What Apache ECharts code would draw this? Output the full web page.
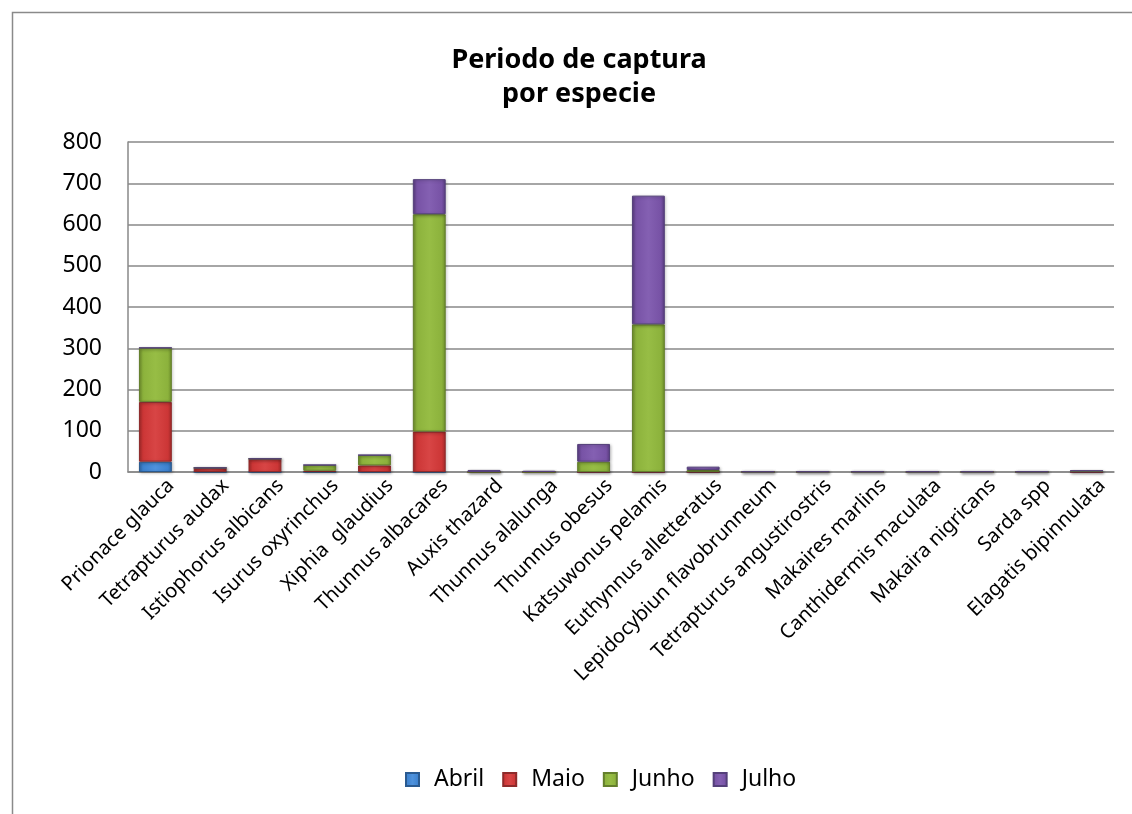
<!DOCTYPE html>
<html>
<head>
<meta charset="utf-8">
<title>Periodo de captura por especie</title>
<script src="https://cdn.jsdelivr.net/npm/echarts@6/dist/echarts.min.js"></script>
<style>
  html, body { margin: 0; padding: 0; background: #ffffff; }
  #chart { width: 1132px; height: 814px; }
</style>
</head>
<body>
<div id="chart"></div>
<script>
// Species (categories on the x axis)
const especies = [
  'Prionace glauca', 'Tetrapturus audax', 'Istiophorus albicans', 'Isurus oxyrinchus',
  'Xiphia  glaudius', 'Thunnus albacares', 'Auxis thazard', 'Thunnus alalunga',
  'Thunnus obesus', 'Katsuwonus pelamis', 'Euthynnus alletteratus',
  'Lepidocybiun flavobrunneum', 'Tetrapturus angustirostris', 'Makaires marlins',
  'Canthidermis maculata', 'Makaira nigricans', 'Sarda spp', 'Elagatis bipinnulata'
];

// Catch per month for each species
const abril = [25, 0, 0, 0, 0, 0, 0, 0, 0, 0, 0, 0, 0, 0, 0, 0, 0, 0];
const maio  = [145, 10, 32, 3, 16, 98, 0, 0, 0, 0, 0, 0, 0, 0, 0, 0, 0, 0];
const junho = [131, 0, 0, 14, 25, 527, 0, 0, 25, 358, 5, 0, 0, 0, 0, 0, 0, 3];
const julho = [0, 0, 0, 0, 0, 85, 5, 3, 43, 312, 8, 1, 1, 1, 1, 1, 1, 0];

const meses = ['Abril', 'Maio', 'Junho', 'Julho'];
const yTicks = [0, 100, 200, 300, 400, 500, 600, 700, 800];

const FONT = 'Noto Sans';

// Bevelled fill: darker edges, lighter body
function bevel(dark, base, light) {
  return {
    type: 'linear', x: 0, y: 0, x2: 1, y2: 0,
    colorStops: [
      { offset: 0, color: dark },
      { offset: 0.12, color: base },
      { offset: 0.5, color: light },
      { offset: 0.88, color: base },
      { offset: 1, color: dark }
    ]
  };
}

const palette = {
  Abril: { fill: bevel('#2f69a8', '#3d82cf', '#4f92dc'), border: '#2a5a90' },
  Maio:  { fill: bevel('#a42a2a', '#cc3636', '#d84545'), border: '#8e2a2a' },
  Junho: { fill: bevel('#6f8f2c', '#8cb23c', '#97bd45'), border: '#647f2c' },
  Julho: { fill: bevel('#5a3c80', '#7752a5', '#8460b2'), border: '#54407a' }
};

function serie(name, values) {
  return {
    name: name,
    type: 'bar',
    stack: 'total',
    data: values,
    barCategoryGap: '40%',
    itemStyle: {
      color: palette[name].fill,
      borderColor: palette[name].border,
      borderWidth: 1,
      shadowColor: 'rgba(0,0,0,0.25)',
      shadowBlur: 3,
      shadowOffsetX: 1,
      shadowOffsetY: 1
    },
    emphasis: { disabled: true }
  };
}

const chart = echarts.init(document.getElementById('chart'), null, { renderer: 'canvas' });

chart.setOption({
  animation: false,
  backgroundColor: '#ffffff',
  color: ['#3d82cf', '#cc3636', '#8cb23c', '#7752a5'],
  graphic: [{
    type: 'rect',
    left: 10, top: 10,
    shape: { width: 1200, height: 900 },
    style: { fill: 'none', stroke: '#8a8a8a', lineWidth: 1.5 },
    silent: true,
    z: -10
  }],
  title: {
    text: 'Periodo de captura\npor especie',
    left: 574,
    textAlign: 'center',
    top: 38,
    textStyle: {
      fontFamily: FONT,
      fontWeight: 'bold',
      fontSize: 27,
      lineHeight: 34,
      color: '#000000'
    }
  },
  legend: {
    data: meses,
    bottom: 18,
    left: 400,
    itemWidth: 13,
    itemHeight: 13,
    itemGap: 18,
    icon: 'rect',
    textStyle: { fontFamily: FONT, fontSize: 23, color: '#000000', padding: [0, 0, 0, 10] }
  },
  grid: {
    left: 128,
    right: 18,
    top: 142,
    bottom: 342,
    containLabel: false
  },
  xAxis: {
    type: 'category',
    data: especies,
    axisLine: { show: true, lineStyle: { color: '#888888', width: 1.5 } },
    axisTick: { show: false },
    axisLabel: {
      interval: 0,
      rotate: 45,
      margin: 26,
      padding: [0, -22, 0, 0],
      fontFamily: FONT,
      fontSize: 20,
      color: '#000000'
    }
  },
  yAxis: {
    type: 'value',
    min: yTicks[0],
    max: yTicks[yTicks.length - 1],
    interval: 100,
    axisLine: { show: true, lineStyle: { color: '#888888', width: 1.5 } },
    axisTick: { show: false },
    splitLine: { show: true, lineStyle: { color: '#888888', width: 1.5 } },
    axisLabel: {
      margin: 26,
      fontFamily: FONT,
      fontSize: 23,
      color: '#000000'
    }
  },
  series: [
    serie('Abril', abril),
    serie('Maio', maio),
    serie('Junho', junho),
    serie('Julho', julho)
  ]
});
</script>
</body>
</html>
